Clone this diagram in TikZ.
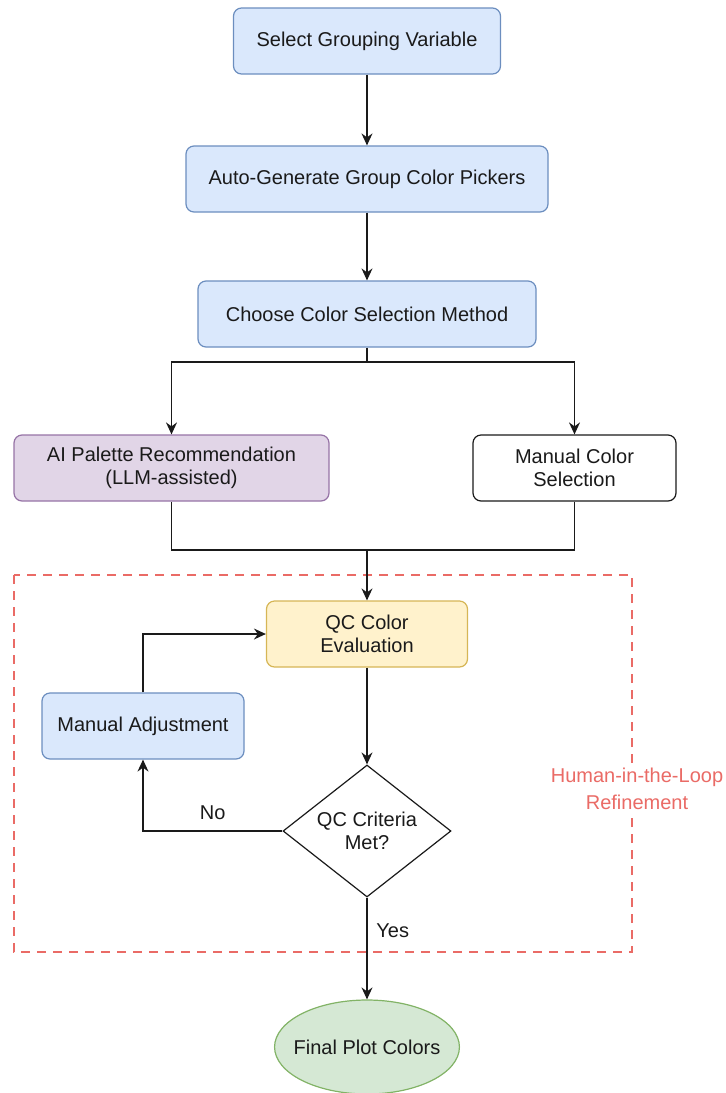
\documentclass[tikz,border=0pt]{standalone}
\usepackage{fontspec}
\setmainfont{Liberation Sans}
\usetikzlibrary{arrows.meta,shapes.geometric}
\definecolor{bluefill}{HTML}{DAE8FC}
\definecolor{blueline}{HTML}{6C8EBF}
\definecolor{purplefill}{HTML}{E1D5E7}
\definecolor{purpleline}{HTML}{9673A6}
\definecolor{yellowfill}{HTML}{FFF2CC}
\definecolor{yellowline}{HTML}{D6B656}
\definecolor{greenfill}{HTML}{D5E8D4}
\definecolor{greenline}{HTML}{82B366}
\definecolor{loopred}{HTML}{EA6B66}
\definecolor{ink}{HTML}{1A1A1A}
\tikzset{
  txt/.style={text=ink, font=\fontsize{10}{11.5}\selectfont, align=center},
  box/.style={txt, rounded corners=4pt, line width=0.6pt, inner sep=2pt, minimum height=33pt},
  bluebox/.style={box, fill=bluefill, draw=blueline},
  purplebox/.style={box, fill=purplefill, draw=purpleline},
  yellowbox/.style={box, fill=yellowfill, draw=yellowline},
  plainbox/.style={box, fill=white, draw=ink},
  decide/.style={txt, diamond, draw=ink, fill=white, line width=0.6pt, inner sep=0pt, aspect=1.27, minimum width=84pt, minimum height=66pt},
  endnode/.style={txt, ellipse, draw=greenline, fill=greenfill, line width=0.6pt, inner xsep=-4pt, inner ysep=0pt, minimum height=47pt},
  flow/.style={draw=ink, line width=0.75pt, -{Stealth[length=6pt,width=5.5pt,inset=2pt]}},
  link/.style={draw=ink, line width=0.75pt},
  loopbox/.style={draw=loopred, line width=1.2pt, dash pattern=on 4.5pt off 3.5pt},
  looplab/.style={text=loopred, font=\fontsize{10}{13.5}\selectfont, align=center, fill=white, inner sep=1pt},
}
\begin{document}
\begin{tikzpicture}[x=0.5pt, y=-0.5pt]
  \useasboundingbox (0,0) rectangle (726,1093);
  % main chain
  \node[bluebox, minimum width=133.5pt] (sel) at (367,41) {Select Grouping Variable};
  \node[bluebox, minimum width=181pt] (gen) at (367,179) {Auto-Generate Group Color Pickers};
  \node[bluebox, minimum width=169pt] (choose) at (367,314) {Choose Color Selection Method};
  \node[purplebox, minimum width=157.5pt] (ai) at (171.5,468) {AI Palette Recommendation\\(LLM-assisted)};
  \node[plainbox, minimum width=101.5pt] (man) at (574.5,468) {Manual Color\\Selection};
  % refinement loop
  \draw[loopbox] (14,575) rectangle (632,952);
  \node[looplab] (looptag) at (637,789) {Human-in-the-Loop\\Refinement};
  \node[yellowbox, minimum width=100.5pt] (qc) at (367,634) {QC Color\\Evaluation};
  \node[bluebox, minimum width=101pt] (adj) at (143,726) {Manual Adjustment};
  \node[decide] (crit) at (367,831) {QC Criteria\\Met?};
  \node[endnode] (final) at (367,1047) {Final Plot Colors};
  \coordinate (split) at (367,362);
  \coordinate (join) at (367,550);
  \draw[flow] (sel) -- (gen);
  \draw[flow] (gen) -- (choose);
  \draw[link] (choose.south) -- (split);
  \draw[flow] (split) -| (ai.north);
  \draw[flow] (split) -| (man.north);
  \draw[link] (ai.south) |- (join);
  \draw[link] (man.south) |- (join);
  \draw[flow] (join) -- (qc.north);
  \draw[flow] (qc) -- (crit.north);
  \draw[flow] (crit.west) -| node[txt, pos=0.25, above=2pt] {No} (adj.south);
  \draw[flow] (adj.north) |- (qc.west);
  \draw[flow] (crit.south) -- node[txt, pos=0.33, right=1pt] {Yes} (final.north);
\end{tikzpicture}
\end{document}
